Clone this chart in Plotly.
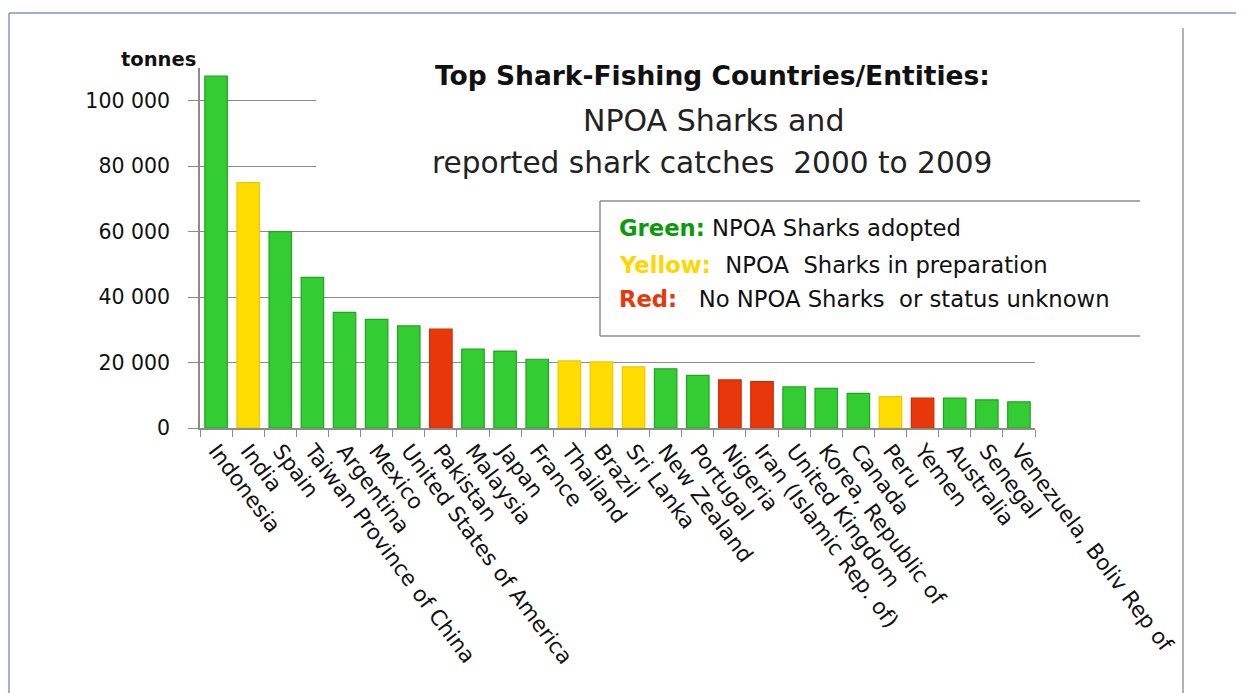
import plotly.graph_objects as go

countries = ["Indonesia", "India", "Spain", "Taiwan Province of China", "Argentina", "Mexico",
             "United States of America", "Pakistan", "Malaysia", "Japan", "France", "Thailand",
             "Brazil", "Sri Lanka", "New Zealand", "Portugal", "Nigeria", "Iran (Islamic Rep. of)",
             "United Kingdom", "Korea, Republic of", "Canada", "Peru", "Yemen", "Australia",
             "Senegal", "Venezuela, Boliv Rep of"]
catches = [107500, 75000, 60000, 46000, 35300, 33200, 31200, 30200, 24100, 23500, 21000, 20500,
           20200, 18700, 18100, 16100, 14700, 14200, 12600, 12100, 10600, 9600, 9100, 9100,
           8600, 8000]
status = ["G", "Y", "G", "G", "G", "G", "G", "R", "G", "G", "G", "Y", "Y", "Y", "G", "G", "R", "R",
          "G", "G", "G", "Y", "R", "G", "G", "G"]
ytick_vals = [0, 20000, 40000, 60000, 80000, 100000]
ytick_text = ["0", "20 000", "40 000", "60 000", "80 000", "100 000"]

fill = {"G": "#33CC33", "Y": "#FFDD00", "R": "#E8380A"}
edge = {"G": "#1FA51F", "Y": "#EBC800", "R": "#D02A00"}

W, H = 1244, 693
OFF = 8  # page body margin
L, R, T, B = 200, 1035, 68, 428  # plot area in reference pixel coords
FONT = "DejaVu Sans"


def px(x):
    return (x - L) / (R - L)


def py(y):
    return (B - y) / (B - T)


fig = go.Figure()
fig.add_trace(go.Bar(
    x=countries, y=catches,
    marker=dict(color=[fill[s] for s in status],
                line=dict(color=[edge[s] for s in status], width=1.2)),
    width=0.7, showlegend=False, hoverinfo="x+y",
))

shapes = []
# white box behind title (hides gridlines)
shapes.append(dict(type="rect", xref="paper", yref="paper", layer="above",
                   x0=px(316), x1=px(1045), y0=py(196), y1=py(50),
                   fillcolor="white", line=dict(width=0)))
# legend box
shapes.append(dict(type="rect", xref="paper", yref="paper", layer="above",
                   x0=px(600), x1=px(1140), y0=py(336), y1=py(201),
                   fillcolor="white", line=dict(width=0)))
for (xa, ya, xb, yb) in [(600, 201, 1140, 201), (600, 201, 600, 336), (600, 336, 1140, 336)]:
    shapes.append(dict(type="line", xref="paper", yref="paper", layer="above",
                       x0=px(xa), y0=py(ya), x1=px(xb), y1=py(yb),
                       line=dict(color="#8C8C8C", width=1.5)))
# page frame lines
shapes.append(dict(type="line", xref="paper", yref="paper", layer="above",
                   x0=px(9), x1=px(1260), y0=py(13), y1=py(13),
                   line=dict(color="#7F96C8", width=1.5)))
shapes.append(dict(type="line", xref="paper", yref="paper", layer="above",
                   x0=px(9), x1=px(9), y0=py(13), y1=py(710),
                   line=dict(color="#7F96C8", width=1.5)))
shapes.append(dict(type="line", xref="paper", yref="paper", layer="above",
                   x0=px(1183), x1=px(1183), y0=py(28), y1=py(710),
                   line=dict(color="#999999", width=1.5)))


def note(text, x, y, size, xanchor="center", color="#111"):
    return dict(text=text, x=px(x), y=py(y), xref="paper", yref="paper",
                xanchor=xanchor, yanchor="middle", showarrow=False,
                font=dict(family=FONT, size=size, color=color))


ann = [
    note("<b>tonnes</b>", 158, 59, 19.5),
    note("<b>Top Shark-Fishing Countries/Entities:</b>", 712, 75, 26.5),
    note("NPOA Sharks and", 713, 120, 30, color="#222"),
    note("reported shark catches  2000 to 2009", 712, 163, 29.6, color="#222"),
]
leg_lines = [
    ("<b><span style='color:#0A9A0A'>Green:</span></b> NPOA Sharks adopted", 228),
    ("<b><span style='color:#FFD700'>Yellow:</span></b>  NPOA  Sharks in preparation", 265),
    ("<b><span style='color:#E8380A'>Red:</span></b>   No NPOA Sharks  or status unknown", 299),
]
for txt, yy in leg_lines:
    ann.append(note(txt, 617, yy, 22.7, xanchor="left"))

fig.update_layout(
    width=W, height=H,
    margin=dict(l=L - OFF, r=W - (R - OFF), t=T - OFF, b=H - (B - OFF), autoexpand=False),
    plot_bgcolor="white", paper_bgcolor="white",
    shapes=shapes, annotations=ann,
    bargap=0.3,
    xaxis=dict(showgrid=False, showline=True, linecolor="#8C8C8C", linewidth=1.5,
               ticks="outside", ticklen=7, tickcolor="#8C8C8C", tickson="boundaries",
               tickangle=53, tickfont=dict(family=FONT, size=21.5, color="#111"),
               range=[-0.5, len(countries) - 0.5]),
    yaxis=dict(range=[0, 110000], tickvals=ytick_vals, ticktext=ytick_text,
               showgrid=True, gridcolor="#8C8C8C", gridwidth=1.2,
               showline=True, linecolor="#8C8C8C", linewidth=1.5,
               ticks="outside", ticklen=10, tickcolor="#8C8C8C", ticklabelstandoff=14,
               tickfont=dict(family=FONT, size=20.5, color="#111"), zeroline=False),
)

fig.write_html("out.html")
